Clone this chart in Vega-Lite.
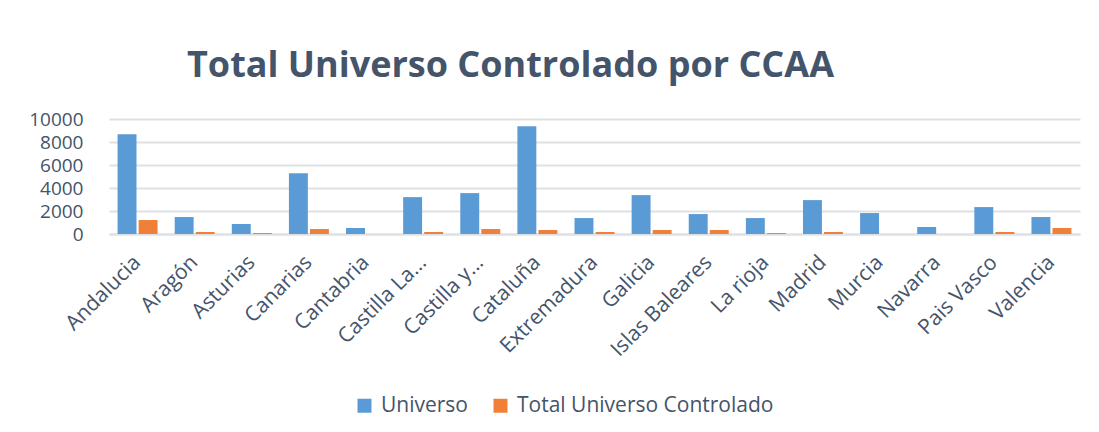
{
  "$schema": "https://vega.github.io/schema/vega-lite/v6.json",
  "autosize": {"type": "none"},
  "width": 971,
  "height": 115,
  "padding": {"left": 109, "top": 119, "right": 19, "bottom": 198},
  "background": "white",
  "title": {
    "text": "Total Universo Controlado por CCAA",
    "font": "Open Sans",
    "fontSize": 36,
    "fontWeight": "bold",
    "color": "#44546A",
    "anchor": "middle",
    "dx": -84,
    "offset": 25
  },
  "data": {
    "values": [
      {"ccaa": "Andalucia", "serie": "Universo", "valor": 8670},
      {"ccaa": "Andalucia", "serie": "Total Universo Controlado", "valor": 1215},
      {"ccaa": "Aragón", "serie": "Universo", "valor": 1475},
      {"ccaa": "Aragón", "serie": "Total Universo Controlado", "valor": 175},
      {"ccaa": "Asturias", "serie": "Universo", "valor": 867},
      {"ccaa": "Asturias", "serie": "Total Universo Controlado", "valor": 87},
      {"ccaa": "Canarias", "serie": "Universo", "valor": 5290},
      {"ccaa": "Canarias", "serie": "Total Universo Controlado", "valor": 434},
      {"ccaa": "Cantabria", "serie": "Universo", "valor": 520},
      {"ccaa": "Cantabria", "serie": "Total Universo Controlado", "valor": 0},
      {"ccaa": "Castilla La Mancha", "serie": "Universo", "valor": 3208},
      {"ccaa": "Castilla La Mancha", "serie": "Total Universo Controlado", "valor": 175},
      {"ccaa": "Castilla y León", "serie": "Universo", "valor": 3555},
      {"ccaa": "Castilla y León", "serie": "Total Universo Controlado", "valor": 434},
      {"ccaa": "Cataluña", "serie": "Universo", "valor": 9364},
      {"ccaa": "Cataluña", "serie": "Total Universo Controlado", "valor": 347},
      {"ccaa": "Extremadura", "serie": "Universo", "valor": 1387},
      {"ccaa": "Extremadura", "serie": "Total Universo Controlado", "valor": 175},
      {"ccaa": "Galicia", "serie": "Universo", "valor": 3382},
      {"ccaa": "Galicia", "serie": "Total Universo Controlado", "valor": 347},
      {"ccaa": "Islas Baleares", "serie": "Universo", "valor": 1734},
      {"ccaa": "Islas Baleares", "serie": "Total Universo Controlado", "valor": 347},
      {"ccaa": "La rioja", "serie": "Universo", "valor": 1387},
      {"ccaa": "La rioja", "serie": "Total Universo Controlado", "valor": 87},
      {"ccaa": "Madrid", "serie": "Universo", "valor": 2948},
      {"ccaa": "Madrid", "serie": "Total Universo Controlado", "valor": 175},
      {"ccaa": "Murcia", "serie": "Universo", "valor": 1821},
      {"ccaa": "Murcia", "serie": "Total Universo Controlado", "valor": 0},
      {"ccaa": "Navarra", "serie": "Universo", "valor": 607},
      {"ccaa": "Navarra", "serie": "Total Universo Controlado", "valor": 0},
      {"ccaa": "Pais Vasco", "serie": "Universo", "valor": 2341},
      {"ccaa": "Pais Vasco", "serie": "Total Universo Controlado", "valor": 175},
      {"ccaa": "Valencia", "serie": "Universo", "valor": 1475},
      {"ccaa": "Valencia", "serie": "Total Universo Controlado", "valor": 520}
    ]
  },
  "mark": {"type": "bar"},
  "encoding": {
    "x": {
      "field": "ccaa",
      "type": "nominal",
      "sort": null,
      "title": null,
      "scale": {"paddingInner": 0.3, "paddingOuter": 0.15},
      "axis": {
        "labelAngle": -45,
        "labelAlign": "right",
        "labelBaseline": "middle",
        "labelFont": "Open Sans",
        "labelFontSize": 21,
        "labelColor": "#44546A",
        "labelPadding": 25,
        "labelLimit": 0,
        "labelOverlap": false,
        "labelExpr": "length(datum.label) > 14 ? trim(substring(datum.label, 0, 11)) + '...' : datum.label",
        "ticks": false,
        "domainColor": "#DDE1E6",
        "domainWidth": 2,
        "grid": false
      }
    },
    "xOffset": {
      "field": "serie",
      "type": "nominal",
      "sort": ["Universo", "Total Universo Controlado"],
      "scale": {"paddingInner": 0.1}
    },
    "y": {
      "field": "valor",
      "type": "quantitative",
      "title": null,
      "scale": {"domain": [0, 10000], "nice": false},
      "axis": {
        "values": [0, 2000, 4000, 6000, 8000, 10000],
        "format": "d",
        "labelFont": "Open Sans",
        "labelFontSize": 19,
        "labelColor": "#44546A",
        "labelPadding": 26,
        "ticks": false,
        "domain": false,
        "gridColor": "#DDE1E6",
        "gridWidth": 2
      }
    },
    "color": {
      "field": "serie",
      "type": "nominal",
      "sort": ["Universo", "Total Universo Controlado"],
      "scale": {"domain": ["Universo", "Total Universo Controlado"], "range": ["#5B9BD5", "#F08038"]},
      "legend": {
        "title": null,
        "orient": "none",
        "direction": "horizontal",
        "legendX": 245,
        "legendY": 276,
        "symbolType": "square",
        "symbolSize": 196,
        "symbolStrokeWidth": 0,
        "labelFont": "Open Sans",
        "labelFontSize": 21,
        "labelColor": "#44546A",
        "labelLimit": 0,
        "columnPadding": 22,
        "labelOffset": 6
      }
    }
  },
  "config": {"view": {"stroke": null}}
}
